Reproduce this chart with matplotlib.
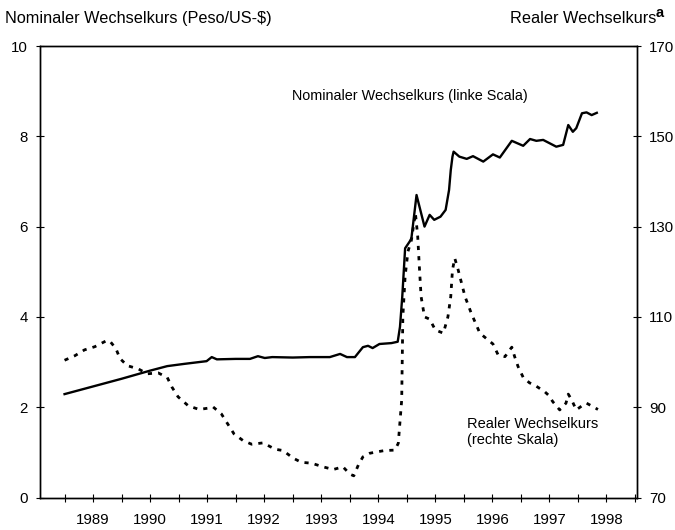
import matplotlib
matplotlib.use("Agg")
import matplotlib.pyplot as plt

plt.rcParams['font.family'] = ['Liberation Sans', 'DejaVu Sans']
plt.rcParams['mathtext.fontset'] = 'custom'
plt.rcParams['mathtext.rm'] = 'Liberation Sans'
plt.rcParams['mathtext.bf'] = 'Liberation Sans:bold'

# -----------------------------
# data (decimal years)
# -----------------------------
nom_years = [1989.00, 1989.50, 1990.00, 1990.50, 1990.80, 1991.10, 1991.49, 1991.58, 1991.67,
             1992.00, 1992.25, 1992.39, 1992.51, 1992.64, 1993.00, 1993.30, 1993.65, 1993.83,
             1993.95, 1994.09, 1994.23, 1994.32, 1994.40, 1994.52, 1994.73, 1994.84, 1994.88,
             1994.92, 1994.97, 1995.05, 1995.08, 1995.17, 1995.31, 1995.40, 1995.48, 1995.59,
             1995.68, 1995.74, 1995.77, 1995.80, 1995.82, 1995.92, 1996.05, 1996.16, 1996.34,
             1996.51, 1996.63, 1996.84, 1997.04, 1997.16, 1997.27, 1997.39, 1997.62, 1997.74,
             1997.83, 1997.91, 1997.97, 1998.07, 1998.15, 1998.24, 1998.33]
nom_values = [2.29, 2.46, 2.63, 2.81, 2.91, 2.96, 3.02, 3.11, 3.06,
              3.07, 3.07, 3.13, 3.09, 3.11, 3.10, 3.11, 3.11, 3.18,
              3.11, 3.11, 3.33, 3.36, 3.31, 3.40, 3.42, 3.45, 3.78,
              4.45, 5.52, 5.67, 5.74, 6.70, 6.00, 6.26, 6.15, 6.22,
              6.37, 6.81, 7.25, 7.55, 7.66, 7.55, 7.50, 7.56, 7.44,
              7.60, 7.53, 7.90, 7.79, 7.94, 7.90, 7.92, 7.77, 7.81,
              8.25, 8.10, 8.18, 8.51, 8.53, 8.47, 8.52]

real_years = [1989.00, 1989.18, 1989.35, 1989.53, 1989.73, 1989.79, 1989.90, 1989.97,
              1990.10, 1990.29, 1990.45, 1990.64, 1990.80, 1990.88, 1990.99,
              1991.17, 1991.36, 1991.52, 1991.60, 1991.75, 1991.87, 1991.97,
              1992.13, 1992.28, 1992.48, 1992.69, 1992.83,
              1993.01, 1993.15, 1993.33, 1993.53, 1993.71, 1993.88,
              1994.00, 1994.07, 1994.15, 1994.23, 1994.35, 1994.47, 1994.61, 1994.79, 1994.85,
              1994.91, 1994.93, 1994.97,
              1995.02, 1995.08, 1995.15, 1995.19, 1995.22, 1995.25, 1995.31, 1995.40, 1995.50,
              1995.64, 1995.72, 1995.77, 1995.80, 1995.84, 1995.90,
              1996.02, 1996.13, 1996.28, 1996.51, 1996.60, 1996.72, 1996.84, 1996.89, 1996.95,
              1997.04, 1997.15, 1997.24, 1997.42, 1997.48, 1997.56, 1997.68, 1997.79, 1997.83,
              1997.89, 1997.97,
              1998.09, 1998.15, 1998.35]
real_values = [100.4, 101.4, 102.7, 103.4, 104.7, 104.7, 103.0, 100.8,
               99.2, 98.5, 97.4, 97.6, 96.6, 94.5, 92.3,
               90.3, 89.5, 89.8, 90.1, 88.5, 86.1, 84.1,
               82.6, 81.8, 82.1, 80.7, 80.4,
               78.7, 77.8, 77.6, 76.8, 76.2, 76.8,
               75.2, 74.8, 77.2, 79.0, 79.8, 80.1, 80.4, 80.5, 82.0,
               91.6, 110.0, 119.0,
               124.5, 127.0, 133.0, 128.0, 121.0, 114.5, 110.0, 109.5, 107.1,
               106.4, 110.0, 114.5, 120.4, 123.0, 120.4,
               114.5, 110.8, 106.4, 104.0, 101.6, 101.2, 103.3, 101.2, 99.0,
               96.6, 95.4, 94.9, 93.4, 92.7, 91.2, 89.4, 90.9, 92.9,
               91.6, 89.4,
               90.5, 90.9, 89.5]

year_labels = [str(y) for y in range(1989, 1999)]
left_ticks = [0, 2, 4, 6, 8, 10]
right_ticks = [70, 90, 110, 130, 150, 170]

# -----------------------------
# figure
# -----------------------------
fig = plt.figure(figsize=(6.75, 5.3), dpi=100)
ax = fig.add_axes([0.0593, 0.0613, 0.8840, 0.8519])
ax2 = ax.twinx()

ax.plot(nom_years, nom_values, color='black', lw=1.7, solid_joinstyle='round')
ax2.plot(real_years, real_values, color='black', lw=2.0, linestyle=(0, (1.5, 2.2)))

ax.set_xlim(1988.57, 1999.03)
ax.set_ylim(0, 10)
ax2.set_ylim(70, 170)

ax.set_yticks(left_ticks)
ax2.set_yticks(right_ticks)
ax.set_xticks([y + 0.5 for y in range(1989, 1999)])
ax.set_xticklabels(year_labels)
ax.set_xticks([y + 0.0 for y in range(1989, 2000)], minor=True)

ax.tick_params(axis='x', which='both', direction='inout', length=6, width=0.8,
               labelsize=10.8, pad=8)
ax.tick_params(axis='y', direction='inout', length=6, width=0.8, labelsize=10.8, pad=6)
ax2.tick_params(axis='y', direction='inout', length=6, width=0.8, labelsize=10.8, pad=6)

for a in (ax, ax2):
    for s in a.spines.values():
        s.set_linewidth(1.0)

ax.text(1992.98, 8.9, 'Nominaler Wechselkurs (linke Scala)', fontsize=10.4,
        ha='left', va='center')
ax.text(1996.05, 1.45, 'Realer Wechselkurs\n(rechte Skala)', fontsize=10.5,
        ha='left', va='center', linespacing=1.25)

fig.text(0.008, 0.965, 'Nominaler Wechselkurs (Peso/US-$)', fontsize=11.7,
         ha='left', va='center')
fig.text(0.972, 0.965, 'Realer Wechselkurs', fontsize=11.7,
         ha='right', va='center')
fig.text(0.972, 0.975, 'a', fontsize=10.5, fontweight='bold',
         ha='left', va='center')

fig.savefig('out.png', dpi=100)
